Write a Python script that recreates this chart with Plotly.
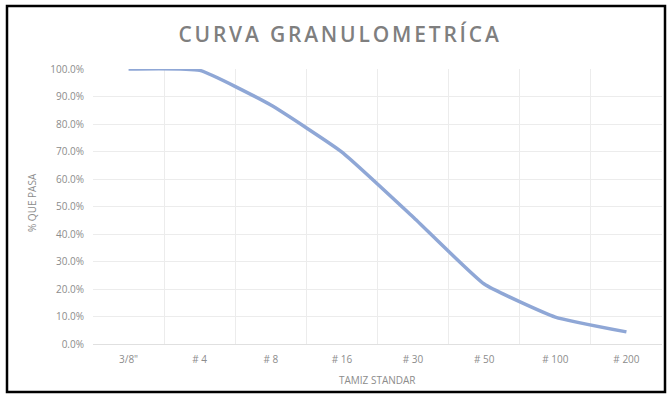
import plotly.graph_objects as go

tamices = ['3/8"', "# 4", "# 8", "# 16", "# 30", "# 50", "# 100", "# 200"]
pasa = [1.000, 0.995, 0.869, 0.698, 0.462, 0.218, 0.098, 0.044]
y_ticks = [i / 10 for i in range(11)]

# plot-area geometry in pixels (for placing frame/labels)
L, R, T, B = 93, 662, 69, 344
W, H = R - L, B - T

fig = go.Figure()
fig.add_trace(go.Scatter(
    x=tamices, y=pasa, mode="lines",
    line=dict(color="#8FA7D6", width=3.5, shape="spline", smoothing=0.4),
    showlegend=False, hoverinfo="x+y",
))

font_fam = "Open Sans, Liberation Sans, sans-serif"
tick_col = "#8c8c8c"
fig.update_layout(
    width=667, height=396,
    paper_bgcolor="white", plot_bgcolor="white",
    margin=dict(l=L, r=667 - R, t=T, b=396 - B, autoexpand=False),
    title=dict(text='<span style="letter-spacing:2.8px">CURVA GRANULOMETRÍCA</span>',
               x=(340 / 667), xanchor="center",
               y=1 - 35 / 396, yanchor="middle",
               font=dict(family=font_fam, size=21, color="#7f7f7f", weight=600)),
    font=dict(family=font_fam, color=tick_col, size=10),
    xaxis=dict(
        type="category", range=[-0.5, 7.5], tickson="boundaries",
        showgrid=True, gridcolor="#ececec", gridwidth=1,
        showline=True, linecolor="#e0e0e0", ticks="", automargin=False,
        tickfont=dict(size=10, color=tick_col), ticklabelstandoff=6,
        fixedrange=True,
    ),
    yaxis=dict(
        range=[0, 1], tickvals=y_ticks, tickformat=".1%",
        showgrid=True, gridcolor="#ececec", gridwidth=1,
        zeroline=False, showline=False, ticks="", automargin=False,
        tickfont=dict(size=10, color=tick_col), ticklabelstandoff=8,
        fixedrange=True,
    ),
)

fig.add_annotation(text="TAMIZ STANDAR", xref="paper", yref="paper",
                   x=0.5, y=(B - 380) / H, xanchor="center", yanchor="middle",
                   showarrow=False, font=dict(size=10, color=tick_col))
fig.add_annotation(text="% QUE PASA", xref="paper", yref="paper",
                   x=(32 - L) / W, y=(B - 203) / H, xanchor="center", yanchor="middle",
                   textangle=-90, showarrow=False, font=dict(size=10, color=tick_col))

# outer frame of the chart
fig.add_shape(type="rect", xref="paper", yref="paper",
              x0=(7 - L) / W, x1=(665 - L) / W,
              y0=(B - 392) / H, y1=(B - 6) / H,
              line=dict(color="black", width=2.5), fillcolor="rgba(0,0,0,0)",
              layer="above")

fig.write_html("out.html", config={"displayModeBar": False},
               post_script="document.body.style.margin='0px';")
